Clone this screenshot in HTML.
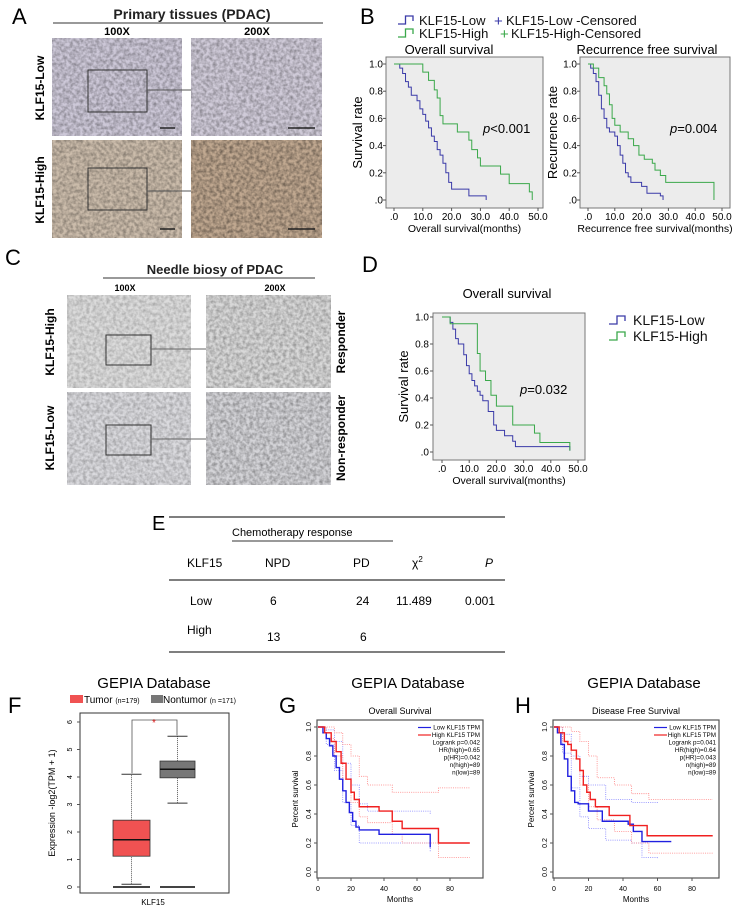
<!DOCTYPE html>
<html><head><meta charset="utf-8"><style>
html,body{margin:0;padding:0;background:#fff;}
svg{display:block;font-family:"Liberation Sans",Arial,sans-serif;}
</style></head><body>
<svg id="fig" width="738" height="917" viewBox="0 0 738 917" xmlns="http://www.w3.org/2000/svg">
<defs>
<filter id="tex" x="0" y="0" width="100%" height="100%">
<feTurbulence type="fractalNoise" baseFrequency="0.3" numOctaves="2" seed="3"/>
<feColorMatrix type="matrix" values="0 0 0 0 0  0 0 0 0 0  0 0 0 0 0  0 0 0 -1.3 0.9"/>
<feComposite in2="SourceGraphic" operator="in"/>
</filter>
</defs>

<!-- Panel A -->
<g>
<text x="12" y="24" font-size="22">A</text>
<text x="192" y="19" font-size="14" text-anchor="middle" font-weight="bold" fill="#222">Primary tissues (PDAC)</text>
<line x1="53" y1="23" x2="323" y2="23" stroke="#333" stroke-width="1"/>
<text x="117" y="35" font-size="11" font-weight="bold" text-anchor="middle">100X</text>
<text x="257" y="35" font-size="11" font-weight="bold" text-anchor="middle">200X</text>
<text transform="translate(44,88) rotate(-90)" font-size="12" font-weight="bold" text-anchor="middle">KLF15-Low</text>
<text transform="translate(44,190) rotate(-90)" font-size="12" font-weight="bold" text-anchor="middle">KLF15-High</text>
<rect x="52" y="38" width="130" height="98" fill="#cdc8d8"/>
<rect x="52" y="38" width="130" height="98" fill="#8a82a6" filter="url(#tex)" opacity="0.45"/>
<rect x="191" y="38" width="131" height="98" fill="#d0cbd9"/>
<rect x="191" y="38" width="131" height="98" fill="#8a82a6" filter="url(#tex)" opacity="0.45"/>
<rect x="52" y="140" width="130" height="98" fill="#cbbcab"/>
<rect x="52" y="140" width="130" height="98" fill="#8a6a52" filter="url(#tex)" opacity="0.45"/>
<rect x="191" y="140" width="131" height="98" fill="#c0a890"/>
<rect x="191" y="140" width="131" height="98" fill="#7e5a42" filter="url(#tex)" opacity="0.55"/>
<rect x="88" y="70" width="59" height="42" fill="none" stroke="#333"/>
<line x1="147" y1="90" x2="191" y2="90" stroke="#555"/>
<rect x="88" y="168" width="59" height="42" fill="none" stroke="#333"/>
<line x1="147" y1="191" x2="191" y2="191" stroke="#555"/>
<line x1="160" y1="128" x2="175" y2="128" stroke="#222" stroke-width="1.5"/>
<line x1="288" y1="128" x2="315" y2="128" stroke="#222" stroke-width="1.5"/>
<line x1="160" y1="229" x2="175" y2="229" stroke="#222" stroke-width="1.5"/>
<line x1="288" y1="229" x2="315" y2="229" stroke="#222" stroke-width="1.5"/>
</g>

<!-- Panel C -->
<g>
<text x="5" y="265" font-size="22">C</text>
<text x="215" y="274" font-size="13" text-anchor="middle" font-weight="bold" fill="#222">Needle biosy of PDAC</text>
<line x1="103" y1="278" x2="315" y2="278" stroke="#333"/>
<text x="125" y="291" font-size="9" font-weight="bold" text-anchor="middle">100X</text>
<text x="275" y="291" font-size="9" font-weight="bold" text-anchor="middle">200X</text>
<text transform="translate(54,342) rotate(-90)" font-size="12" font-weight="bold" text-anchor="middle">KLF15-High</text>
<text transform="translate(54,438) rotate(-90)" font-size="12" font-weight="bold" text-anchor="middle">KLF15-Low</text>
<text transform="translate(345,342) rotate(-90)" font-size="12" font-weight="bold" text-anchor="middle">Responder</text>
<text transform="translate(345,438) rotate(-90)" font-size="12" font-weight="bold" text-anchor="middle">Non-responder</text>
<rect x="67" y="295" width="124" height="93" fill="#dcdcdc"/>
<rect x="67" y="295" width="124" height="93" fill="#909098" filter="url(#tex)" opacity="0.3"/>
<rect x="206" y="295" width="125" height="93" fill="#d8d8d8"/>
<rect x="206" y="295" width="125" height="93" fill="#909098" filter="url(#tex)" opacity="0.4"/>
<rect x="67" y="392" width="124" height="93" fill="#dadade"/>
<rect x="67" y="392" width="124" height="93" fill="#8e8ea0" filter="url(#tex)" opacity="0.35"/>
<rect x="206" y="392" width="125" height="93" fill="#d4d4d8"/>
<rect x="206" y="392" width="125" height="93" fill="#8a8a9a" filter="url(#tex)" opacity="0.45"/>
<rect x="106" y="335" width="45" height="30" fill="none" stroke="#333"/>
<line x1="151" y1="349" x2="206" y2="349" stroke="#666"/>
<rect x="106" y="425" width="45" height="30" fill="none" stroke="#333"/>
<line x1="151" y1="439" x2="206" y2="439" stroke="#666"/>
</g>

<text x="360" y="24" font-size="22">B</text>
<text x="362" y="272" font-size="22">D</text>

<!-- Panel E table -->
<g font-size="12">
<text x="152" y="530" font-size="20">E</text>
<line x1="169" y1="517" x2="505" y2="517" stroke="#333" stroke-width="1.2"/>
<text x="232" y="536" font-size="11">Chemotherapy response</text>
<line x1="232" y1="541" x2="393" y2="541" stroke="#333"/>
<text x="187" y="567">KLF15</text>
<text x="265" y="567">NPD</text>
<text x="353" y="567">PD</text>
<text x="412" y="567">χ<tspan font-size="8" dy="-5">2</tspan></text>
<text x="485" y="567" font-style="italic">P</text>
<line x1="169" y1="580" x2="505" y2="580" stroke="#333" stroke-width="1.2"/>
<text x="190" y="605">Low</text>
<text x="270" y="605">6</text><text x="356" y="605">24</text><text x="396" y="605">11.489</text><text x="465" y="605">0.001</text>
<text x="187" y="634">High</text>
<text x="267" y="641">13</text><text x="360" y="641">6</text>
<line x1="169" y1="652" x2="505" y2="652" stroke="#333" stroke-width="1.2"/>
</g>

<!-- Panel F -->
<g>
<text x="154" y="688" font-size="15" text-anchor="middle">GEPIA Database</text>
<text x="8" y="713" font-size="22">F</text>
<rect x="70" y="695" width="13" height="8" fill="#f05252"/>
<text x="84" y="703" font-size="10">Tumor <tspan font-size="7">(n=179)</tspan></text>
<rect x="151" y="695" width="12" height="8" fill="#777"/>
<text x="163" y="703" font-size="10">Nontumor <tspan font-size="7">(n =171)</tspan></text>
<rect x="80" y="713" width="149" height="180" fill="none" stroke="#333"/>
<text transform="translate(55,803) rotate(-90)" font-size="9" text-anchor="middle">Expression -log2(TPM + 1)</text>
<text x="153" y="905" font-size="8" text-anchor="middle">KLF15</text>
<g id="fbox"></g>
</g>

<g id="charts"></g>
</svg>

<script>
// ---------- data: panel B overall survival ----------
const bOsLowT = [0,2,3,4,5,6,8,9,10,11,12,13,14,15,16,17,18,19,20,26,32,32];
const bOsLowS = [1,0.97,0.93,0.87,0.83,0.77,0.73,0.67,0.63,0.58,0.53,0.47,0.43,0.37,0.33,0.27,0.2,0.13,0.08,0.03,0.03,0.0];
const bOsHighT = [0,9,10,12,14,15,16,17,22,26,27,29,30,37,40,47,48,48];
const bOsHighS = [1,1,0.94,0.88,0.81,0.75,0.62,0.56,0.5,0.44,0.37,0.31,0.25,0.19,0.12,0.06,0.06,0.0];
// ---------- panel B recurrence free ----------
const bRfsLowT = [0,1,2,3,4,5,6,7,8,10,11,12,13,14,15,16,20,22,27,28,28];
const bRfsLowS = [1,0.97,0.93,0.87,0.77,0.67,0.6,0.53,0.5,0.47,0.4,0.33,0.27,0.2,0.17,0.13,0.1,0.05,0.03,0.03,0.0];
const bRfsHighT = [0,2,4,6,7,8,9,10,12,15,17,19,21,24,25,27,29,46,47,47];
const bRfsHighS = [1,0.97,0.9,0.84,0.78,0.7,0.6,0.55,0.5,0.45,0.4,0.33,0.3,0.27,0.22,0.18,0.13,0.13,0.13,0.0];
// ---------- panel D ----------
const dLowT = [0,3,4,5,6,8,9,10,11,12,13,14,15,17,19,20,23,26,27,47,47];
const dLowS = [1,0.96,0.91,0.84,0.8,0.72,0.64,0.58,0.53,0.49,0.45,0.42,0.38,0.3,0.2,0.16,0.12,0.08,0.04,0.04,0.01];
const dHighT = [0,2,3,12,13,14,16,18,20,26,34,36,47,47];
const dHighS = [1,1,0.95,0.95,0.73,0.6,0.53,0.42,0.34,0.2,0.14,0.07,0.07,0.01];
const kmTicksX = [0,10,20,30,40,50];
const kmTickLabelsX = [".0","10.0","20.0","30.0","40.0","50.0"];
const kmTicksY = [0,0.2,0.4,0.6,0.8,1.0];
const kmTickLabelsY = [".0","0.2","0.4","0.6","0.8","1.0"];
// ---------- panel G (GEPIA OS) ----------
const gLowT = [0,3,5,7,9,11,13,15,17,19,21,23,25,37,68,68];
const gLowS = [1,0.96,0.92,0.87,0.8,0.72,0.64,0.56,0.48,0.41,0.35,0.31,0.29,0.26,0.26,0.17];
const gLowUpT = [0,5,10,15,20,25,30,68];
const gLowUpS = [1,0.98,0.9,0.75,0.6,0.47,0.42,0.4];
const gLowLoT = [0,5,10,15,20,25,30,68];
const gLowLoS = [1,0.88,0.7,0.48,0.32,0.2,0.2,0.14];
const gHighT = [0,4,8,11,14,17,20,22,25,37,45,51,73,92];
const gHighS = [1,0.96,0.9,0.83,0.75,0.64,0.55,0.5,0.45,0.42,0.35,0.3,0.2,0.2];
const gHighUpT = [0,5,10,15,20,25,30,45,68,73,92];
const gHighUpS = [1,1,0.96,0.88,0.8,0.66,0.6,0.55,0.55,0.58,0.58];
const gHighLoT = [0,5,10,15,20,25,30,45,51,73,92];
const gHighLoS = [1,0.92,0.8,0.64,0.48,0.38,0.34,0.26,0.2,0.1,0.1];
// ---------- panel H (GEPIA DFS) ----------
const hLowT = [0,2,4,6,8,10,12,14,20,28,43,46,51,68];
const hLowS = [1,0.96,0.88,0.78,0.66,0.56,0.48,0.47,0.42,0.35,0.33,0.28,0.21,0.21];
const hLowUpT = [0,5,10,15,20,30,45,60];
const hLowUpS = [1,0.95,0.8,0.66,0.6,0.5,0.48,0.47];
const hLowLoT = [0,5,10,15,20,30,45,51,60];
const hLowLoS = [1,0.82,0.58,0.38,0.3,0.22,0.2,0.1,0.09];
const hHighT = [0,3,6,8,10,13,15,17,19,21,24,32,44,54,92];
const hHighS = [1,0.96,0.9,0.88,0.84,0.78,0.7,0.6,0.55,0.5,0.45,0.39,0.32,0.25,0.25];
const hHighUpT = [0,5,10,15,20,25,35,45,55,92];
const hHighUpS = [1,1,0.97,0.9,0.8,0.65,0.6,0.54,0.5,0.5];
const hHighLoT = [0,5,10,15,20,25,35,45,55,92];
const hHighLoS = [1,0.9,0.78,0.6,0.45,0.36,0.28,0.2,0.13,0.13];
const gepiaTicksX = [0,20,40,60,80];
const gepiaTicksY = [0,0.2,0.4,0.6,0.8,1.0];
const gepiaTickLabelsY = ["0.0","0.2","0.4","0.6","0.8","1.0"];
// ---------- panel F box plot ----------
const fGroups = ["Tumor","Nontumor"];
const fQ1 = [1.12, 3.97];
const fMedian = [1.72, 4.28];
const fQ3 = [2.43, 4.58];
const fWhiskLo = [0.1, 3.05];
const fWhiskHi = [4.1, 5.48];
const fTicksY = [0,1,2,3,4,5,6];

const NS = "http://www.w3.org/2000/svg";
const root = document.getElementById("charts");
function mk(tag, attrs, parent){const e=document.createElementNS(NS,tag);for(const k in attrs)e.setAttribute(k,attrs[k]);(parent||root).appendChild(e);return e;}
function stepPath(T,S,xf,yf){let d="M"+xf(T[0])+","+yf(S[0]);for(let i=1;i<T.length;i++){d+=" H"+xf(T[i])+" V"+yf(S[i]);}return d;}

function kmChart(o){
  const g=mk("g",{});
  
  
  const xf=t=>o.x0+t*(o.x50-o.x0)/50, yf=s=>o.y0-s*(o.y0-o.y1);
  const fr=mk("rect",{x:o.bx,y:o.by,width:o.bw,height:o.bh,fill:"#ececec",stroke:"#777","stroke-width":1},g);
  
  
  kmTicksY.forEach((v,i)=>{mk("line",{x1:o.bx-3,x2:o.bx,y1:yf(v),y2:yf(v),stroke:"#555"},g);
    const t=mk("text",{x:o.tlx,y:yf(v)+3.5,"font-size":10,"text-anchor":"end"},g);t.textContent=kmTickLabelsY[i];
    
    });
  kmTicksX.forEach((v,i)=>{mk("line",{x1:xf(v),x2:xf(v),y1:o.by+o.bh,y2:o.by+o.bh+3,stroke:"#555"},g);
    const t=mk("text",{x:xf(v),y:o.by+o.bh+12,"font-size":10,"text-anchor":"middle"},g);t.textContent=kmTickLabelsX[i];
    
    });
  const p1=mk("path",{d:stepPath(o.lowT,o.lowS,xf,yf),fill:"none",stroke:"#3a3aa8","stroke-width":1},g);
  
  
  const p2=mk("path",{d:stepPath(o.highT,o.highS,xf,yf),fill:"none",stroke:"#3aa84a","stroke-width":1},g);
  
  
  const ti=mk("text",{x:o.tx,y:o.ty,"font-size":13,"text-anchor":"middle"},g);ti.textContent=o.title;
  
  
  const xl=mk("text",{x:(o.bx+o.bx+o.bw)/2,y:o.by+o.bh+24,"font-size":10.5,"text-anchor":"middle"},g);xl.textContent=o.xlab;
  
  
  const yl=mk("text",{transform:"translate("+o.ylx+","+(o.by+o.bh/2)+") rotate(-90)","font-size":13,"text-anchor":"middle"},g);yl.textContent=o.ylab;
  
  
  const pv=mk("text",{x:o.px,y:o.py,"font-size":13},g);
  
  
  const ps=mk("tspan",{"font-style":"italic"},pv);ps.textContent="p";
  const pr=mk("tspan",{},pv);pr.textContent=o.p;
}
kmChart({name:"os-chart-b",bx:386,by:57,bw:157,bh:151,tlx:383,x0:394,x50:538,y0:200,y1:64,lowT:bOsLowT,lowS:bOsLowS,highT:bOsHighT,highS:bOsHighS,title:"Overall survival",tx:449,ty:54,xlab:"Overall survival(months)",ylab:"Survival rate",ylx:362,px:483,py:133,p:"<0.001"});
kmChart({name:"rfs-chart-b",bx:580,by:57,bw:150,bh:151,tlx:577,x0:588,x50:722,y0:200,y1:64,lowT:bRfsLowT,lowS:bRfsLowS,highT:bRfsHighT,highS:bRfsHighS,title:"Recurrence free survival",tx:647,ty:54,xlab:"Recurrence free survival(months)",ylab:"Recurrence rate",ylx:557,px:670,py:133,p:"=0.004"});
kmChart({name:"os-chart-d",bx:433,by:313,bw:152,bh:147,tlx:429,x0:442,x50:578,y0:452,y1:317,lowT:dLowT,lowS:dLowS,highT:dHighT,highS:dHighS,title:"Overall survival",tx:507,ty:298,xlab:"Overall survival(months)",ylab:"Survival rate",ylx:408,px:520,py:394,p:"=0.032"});

function stepIcon(x,y,col,w){mk("path",{d:"M"+x+","+(y+3)+" H"+(x+w*0.5)+" V"+(y-5)+" H"+(x+w)+" V"+(y),fill:"none",stroke:col,"stroke-width":1.3});}
function lt(x,y,s,fs,col,name){const t=mk("text",{x:x,y:y,"font-size":fs,fill:col||"#111"});t.textContent=s;
  
  return t;}
stepIcon(398,21,"#3a3aa8",15);lt(419,25,"KLF15-Low",13,"#111","legend-klf15-low");
lt(494,26,"+",15,"#3a3aa8","legend-low-censored-marker");lt(506,25,"KLF15-Low -Censored",13,"#111","legend-klf15-low-censored");
stepIcon(398,34,"#3aa84a",15);lt(419,38,"KLF15-High",13,"#111","legend-klf15-high");
lt(500,39,"+",15,"#3aa84a","legend-high-censored-marker");lt(511,38,"KLF15-High-Censored",13,"#111","legend-klf15-high-censored");
stepIcon(609,321,"#3a3aa8",16);lt(633,325,"KLF15-Low",14,"#111","legend-d-klf15-low");
stepIcon(609,337,"#3aa84a",16);lt(633,341,"KLF15-High",14,"#111","legend-d-klf15-high");

function gepia(o){
  const g=mk("g",{});
  
  
  const xf=t=>o.x0+t*(o.x80-o.x0)/80, yf=s=>o.y0-s*(o.y0-o.y1);
  const fr=mk("rect",{x:o.bx,y:720,width:o.bw,height:158,fill:"#fff",stroke:"#555","stroke-width":1.2},g);
  
  
  gepiaTicksY.forEach((v,i)=>{mk("line",{x1:o.bx-3,x2:o.bx,y1:yf(v),y2:yf(v),stroke:"#555"},g);
    const t=mk("text",{transform:"translate("+(o.bx-6)+","+yf(v)+") rotate(-90)","font-size":7,"text-anchor":"middle"},g);t.textContent=gepiaTickLabelsY[i];
    
    });
  gepiaTicksX.forEach(v=>{mk("line",{x1:xf(v),x2:xf(v),y1:878,y2:881,stroke:"#555"},g);
    const t=mk("text",{x:xf(v),y:891,"font-size":7,"text-anchor":"middle"},g);t.textContent=v;
    
    });
  [[o.lu,"#8080ff"],[o.ll,"#8080ff"],[o.hu,"#ff8080"],[o.hl,"#ff8080"]].forEach(c=>{
    const p=mk("path",{d:stepPath(c[0][0],c[0][1],xf,yf),fill:"none",stroke:c[1],"stroke-width":0.8,"stroke-dasharray":"1,1.2"},g);
    
    });
  const pl=mk("path",{d:stepPath(o.lowT,o.lowS,xf,yf),fill:"none",stroke:"#2020e0","stroke-width":1.4},g);
  
  
  const ph=mk("path",{d:stepPath(o.highT,o.highS,xf,yf),fill:"none",stroke:"#f02020","stroke-width":1.4},g);
  
  
  const t=mk("text",{x:o.bx+o.bw/2,y:714,"font-size":9,"text-anchor":"middle"},g);t.textContent=o.title;
  
  
  const big=mk("text",{x:o.bx+o.bw/2+8,y:688,"font-size":15,"text-anchor":"middle"},g);big.textContent="GEPIA Database";
  
  
  const pl2=mk("text",{x:o.bx-38,y:713,"font-size":22},g);pl2.textContent=o.label;
  
  
  const xl=mk("text",{x:o.bx+o.bw/2,y:902,"font-size":8,"text-anchor":"middle"},g);xl.textContent="Months";
  
  
  const yl=mk("text",{transform:"translate("+(o.bx-19)+",799) rotate(-90)","font-size":8,"text-anchor":"middle"},g);yl.textContent="Percent survival";
  
  
  const rx=o.bx+o.bw-3;
  mk("line",{x1:rx-62,x2:rx-49,y1:727.5,y2:727.5,stroke:"#2020e0","stroke-width":1.2},g);
  mk("line",{x1:rx-62,x2:rx-49,y1:735,y2:735,stroke:"#f02020","stroke-width":1.2},g);
  o.leg.forEach((s,i)=>{const e=mk("text",{x:rx,y:729.5+i*7.5,"font-size":6.3,"text-anchor":"end"},g);e.textContent=s;
    
    });
}
gepia({name:"gepia-os-chart",label:"G",bx:317,bw:166,x0:318,x80:450,y0:872,y1:727,title:"Overall Survival",
  lowT:gLowT,lowS:gLowS,highT:gHighT,highS:gHighS,lu:[gLowUpT,gLowUpS],ll:[gLowLoT,gLowLoS],hu:[gHighUpT,gHighUpS],hl:[gHighLoT,gHighLoS],
  leg:["Low KLF15 TPM","High KLF15 TPM","Logrank p=0.042","HR(high)=0.65","p(HR)=0.042","n(high)=89","n(low)=89"]});
gepia({name:"gepia-dfs-chart",label:"H",bx:553,bw:166,x0:554,x80:692,y0:872,y1:727,title:"Disease Free Survival",
  lowT:hLowT,lowS:hLowS,highT:hHighT,highS:hHighS,lu:[hLowUpT,hLowUpS],ll:[hLowLoT,hLowLoS],hu:[hHighUpT,hHighUpS],hl:[hHighLoT,hHighLoS],
  leg:["Low KLF15 TPM","High KLF15 TPM","Logrank p=0.041","HR(high)=0.64","p(HR)=0.043","n(high)=89","n(low)=89"]});

(function(){
  const fb=document.getElementById("fbox");
  const yf=v=>887-v*27.5;
  const cx=[131.5,177.5], hw=[18.5,17.5], cols=["#f05252","#777"];
  fTicksY.forEach(v=>{mk("line",{x1:77,x2:80,y1:yf(v),y2:yf(v),stroke:"#555"},fb);
    const t=mk("text",{transform:"translate(72,"+yf(v)+") rotate(-90)","font-size":7,"text-anchor":"middle"},fb);t.textContent=v;
    
    });
  fGroups.forEach((gname,i)=>{
    mk("line",{x1:cx[i],x2:cx[i],y1:yf(fWhiskLo[i]),y2:yf(fWhiskHi[i]),stroke:"#333","stroke-width":0.8,"stroke-dasharray":"1,1"},fb);
    mk("line",{x1:cx[i]-10,x2:cx[i]+10,y1:yf(fWhiskHi[i]),y2:yf(fWhiskHi[i]),stroke:"#333"},fb);
    mk("line",{x1:cx[i]-10,x2:cx[i]+10,y1:yf(fWhiskLo[i]),y2:yf(fWhiskLo[i]),stroke:"#333"},fb);
    const b=mk("rect",{x:cx[i]-hw[i],y:yf(fQ3[i]),width:hw[i]*2,height:yf(fQ1[i])-yf(fQ3[i]),fill:cols[i],stroke:"#333","stroke-width":0.8},fb);
    
    
    mk("line",{x1:cx[i]-hw[i],x2:cx[i]+hw[i],y1:yf(fMedian[i]),y2:yf(fMedian[i]),stroke:"#111","stroke-width":1.5},fb);
    mk("line",{x1:cx[i]-hw[i],x2:cx[i]+hw[i],y1:yf(0),y2:yf(0),stroke:"#444","stroke-width":2},fb);
  });
  mk("path",{d:"M132,"+(yf(fWhiskHi[0])-1)+" V720 H177 V"+(yf(fWhiskHi[1])-1),fill:"none",stroke:"#555","stroke-width":0.8},fb);
  const st=mk("text",{x:154,y:726,"font-size":10,fill:"#e02020","text-anchor":"middle"},fb);st.textContent="*";
  
  
})();
</script>
</body></html>
